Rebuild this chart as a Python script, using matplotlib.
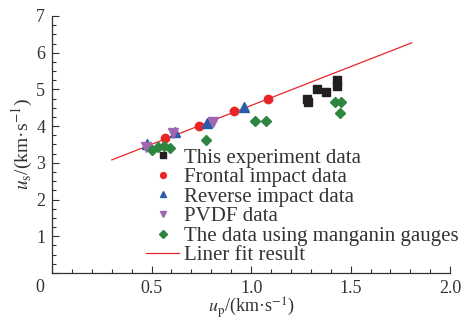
import matplotlib
matplotlib.use("Agg")
import matplotlib.pyplot as plt
from matplotlib.ticker import MultipleLocator
import numpy as np

plt.rcParams['font.family'] = ['Liberation Serif', 'DejaVu Serif']
plt.rcParams['mathtext.fontset'] = 'stix'

# data
exp_up = [1.283, 1.288, 1.333, 1.375, 1.43, 1.43]
exp_us = [4.73, 4.65, 5.01, 4.94, 5.26, 5.08]

front_up = [0.568, 0.739, 0.916, 1.084]
front_us = [3.67, 4.00, 4.40, 4.74]

rev_up = [0.476, 0.618, 0.777, 0.966]
rev_us = [3.50, 3.85, 4.08, 4.53]

pvdf_up = [0.472, 0.606, 0.811]
pvdf_us = [3.44, 3.81, 4.12]

mang_up = [0.50, 0.53, 0.56, 0.593, 0.774, 1.02, 1.075, 1.422, 1.45, 1.447]
mang_us = [3.35, 3.42, 3.47, 3.41, 3.62, 4.14, 4.14, 4.65, 4.65, 4.35]

fit_up = [0.30, 1.807]
fit_us = [3.08, 6.27]

labels = ['This experiment data', 'Frontal impact data', 'Reverse impact data',
          'PVDF data', 'The data using manganin gauges', 'Liner fit result']

fig = plt.figure(figsize=(4.65, 3.2), dpi=100)
ax = fig.add_axes([0.112, 0.147, 0.856, 0.803])

ax.plot(fit_up, fit_us, '-', color='#e8262a', linewidth=0.9, label=labels[5], zorder=2)
ax.plot(exp_up, exp_us, 's', color='#231f20', markersize=5.5, linestyle='none', label=labels[0], zorder=3)
ax.plot(front_up, front_us, 'o', color='#e8262a', markersize=6, linestyle='none', label=labels[1], zorder=3)
ax.plot(rev_up, rev_us, '^', color='#2a5caa', markersize=6.5, linestyle='none', label=labels[2], zorder=3)
ax.plot(pvdf_up, pvdf_us, 'v', color='#a066b0', markersize=6.5, linestyle='none', label=labels[3], zorder=3)
ax.plot(mang_up, mang_us, 'D', color='#2e8540', markersize=5.5, linestyle='none', label=labels[4], zorder=3)

ax.set_xlim(0, 2.0)
ax.set_ylim(0, 7)
ax.xaxis.set_major_locator(MultipleLocator(0.5))
ax.xaxis.set_minor_locator(MultipleLocator(0.1))
ax.yaxis.set_major_locator(MultipleLocator(1))
ax.yaxis.set_minor_locator(MultipleLocator(0.25))
ax.xaxis.set_major_formatter(plt.FuncFormatter(lambda v, p: '' if v == 0 else '%.1f' % v))
ax.yaxis.set_major_formatter(plt.FuncFormatter(lambda v, p: '' if v == 0 else '%d' % v))
ax.tick_params(which='both', direction='in', labelsize=13, colors='#333333')
ax.tick_params(which='major', length=5, width=0.8)
ax.tick_params(which='minor', length=3, width=0.8)
ax.tick_params(axis='x', pad=5)
ax.tick_params(axis='y', pad=5)
for s in ['top', 'right']:
    ax.spines[s].set_visible(False)
for s in ['left', 'bottom']:
    ax.spines[s].set_color('#333333')
    ax.spines[s].set_linewidth(0.9)

fig.text(40 / 465, 1 - 287 / 320, '0', fontsize=13, color='#333333', ha='center', va='center')

ax.set_xlabel(r'$u_\mathrm{p}$/(km·s$^{-1}$)', fontsize=13, color='#333333', labelpad=-1)
ax.set_ylabel(r'$u_\mathrm{s}$/(km·s$^{-1}$)', fontsize=14, color='#333333', labelpad=1)

handles, labs = ax.get_legend_handles_labels()
order = [1, 2, 3, 4, 5, 0]
leg = ax.legend([handles[i] for i in order], [labs[i] for i in order],
                loc='upper left', bbox_to_anchor=(0.21, 0.527), frameon=False,
                fontsize=15, handlelength=1.6, handletextpad=0.2,
                labelspacing=0.0, borderpad=0, markerscale=0.7)
for t in leg.get_texts():
    t.set_color('#333333')

fig.savefig('out.png', dpi=100)
